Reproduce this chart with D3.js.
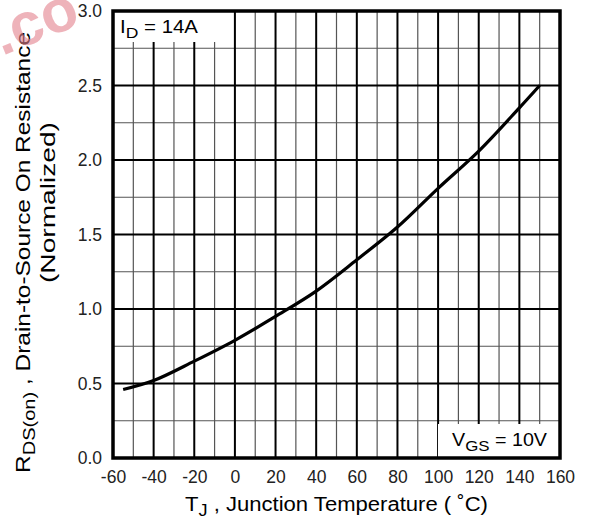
<!DOCTYPE html>
<html>
<head>
<meta charset="utf-8">
<script src="https://cdn.jsdelivr.net/npm/d3@7"></script>
<style>
  body { margin: 0; background: #fff; }
  text { font-family: "Liberation Sans", Arial, sans-serif; }
</style>
</head>
<body>
<svg id="chart" width="594" height="520"></svg>
<script>
// curve
const tempC = [-55, -40, -20, 0, 20, 40, 60, 80, 100, 120, 140, 150];
const rdsNorm = [0.46, 0.52, 0.65, 0.79, 0.95, 1.12, 1.33, 1.55, 1.81, 2.06, 2.35, 2.50];

const xTicks = [-60, -40, -20, 0, 20, 40, 60, 80, 100, 120, 140, 160];
const yTicks = [0, 0.5, 1.0, 1.5, 2.0, 2.5, 3.0];

// plot box
const margin = {top: 11, right: 34, bottom: 62, left: 113};
const width = 594 - margin.left - margin.right,
      height = 520 - margin.top - margin.bottom;

const svg = d3.select("#chart");
const g = svg.append("g")
  .attr("transform", `translate(${margin.left}, ${margin.top})`);

const x = d3.scaleLinear().domain([-60, 160]).range([0, width]);
const y = d3.scaleLinear().domain([0, 3]).range([height, 0]);

// grid - minor first, then major
const minorX = d3.range(-50, 160, 20);
const majorX = d3.range(-40, 160, 20);
const minorY = d3.range(0.25, 3, 0.5);
const majorY = d3.range(0.5, 3, 0.5);

g.selectAll(".vminor").data(minorX).enter().append("line")
  .attr("x1", d => x(d)).attr("x2", d => x(d))
  .attr("y1", 0).attr("y2", height)
  .attr("stroke", "#555").attr("stroke-width", 1.2);
g.selectAll(".hminor").data(minorY).enter().append("line")
  .attr("x1", 0).attr("x2", width)
  .attr("y1", d => y(d)).attr("y2", d => y(d))
  .attr("stroke", "#555").attr("stroke-width", 1.2);
g.selectAll(".vmajor").data(majorX).enter().append("line")
  .attr("x1", d => x(d)).attr("x2", d => x(d))
  .attr("y1", 0).attr("y2", height)
  .attr("stroke", "#000").attr("stroke-width", 2);
g.selectAll(".hmajor").data(majorY).enter().append("line")
  .attr("x1", 0).attr("x2", width)
  .attr("y1", d => y(d)).attr("y2", d => y(d))
  .attr("stroke", "#000").attr("stroke-width", 2);

// white label boxes over the grid
g.append("rect").attr("x", 0).attr("y", 0)
  .attr("width", 119).attr("height", 31).attr("fill", "#fff");
g.append("rect").attr("x", 325).attr("y", 413)
  .attr("width", width - 325).attr("height", height - 413).attr("fill", "#fff");

// curve
const line = d3.line()
  .x((d, i) => x(tempC[i]))
  .y(d => y(d))
  .curve(d3.curveCatmullRom);
g.append("path")
  .datum(rdsNorm)
  .attr("d", line)
  .attr("fill", "none")
  .attr("stroke", "#000")
  .attr("stroke-width", 3.2);

// frame
g.append("rect").attr("x", 0).attr("y", 0)
  .attr("width", width).attr("height", height)
  .attr("fill", "none").attr("stroke", "#000").attr("stroke-width", 3.5);

// axes
const xAxis = g.append("g")
  .attr("transform", `translate(0, ${height})`)
  .call(d3.axisBottom(x).tickValues(xTicks).tickFormat(d => String(d)).tickSize(0).tickPadding(13));
const yAxis = g.append("g")
  .call(d3.axisLeft(y).tickValues(yTicks).tickFormat(d3.format(".1f")).tickSize(0).tickPadding(11));
[xAxis, yAxis].forEach(a => {
  a.select(".domain").remove();
  a.selectAll("text")
    .style("font-family", "Liberation Sans, Arial, sans-serif")
    .style("font-size", "17.5px")
    .attr("fill", "#222");
});

// annotations
const idLabel = g.append("text").attr("x", 7).attr("y", 22)
  .attr("textLength", 78).attr("lengthAdjust", "spacingAndGlyphs")
  .style("font-size", "17.5px");
idLabel.append("tspan").text("I");
idLabel.append("tspan").attr("dy", 5).style("font-size", "15px").text("D");
idLabel.append("tspan").attr("dy", -5).text(" = 14A");

const vgsLabel = g.append("text").attr("x", 339).attr("y", 435)
  .attr("textLength", 95).attr("lengthAdjust", "spacingAndGlyphs")
  .style("font-size", "17.5px");
vgsLabel.append("tspan").text("V");
vgsLabel.append("tspan").attr("dy", 5).style("font-size", "15px").text("GS");
vgsLabel.append("tspan").attr("dy", -5).text(" = 10V");

// axis titles
const xt = svg.append("text")
  .attr("x", 185).attr("y", 511)
  .attr("textLength", 303).attr("lengthAdjust", "spacingAndGlyphs")
  .style("font-size", "19.5px");
xt.append("tspan").text("T");
xt.append("tspan").attr("dy", 5).style("font-size", "16px").text("J");
xt.append("tspan").attr("dy", -5).text(" , Junction Temperature ( ˚C)");

const yt = svg.append("text")
  .attr("transform", "translate(30, 473) rotate(-90)")
  .attr("textLength", 441).attr("lengthAdjust", "spacingAndGlyphs")
  .style("font-size", "19.5px");
yt.append("tspan").text("R");
yt.append("tspan").attr("dy", 5).style("font-size", "16px").text("DS(on)");
yt.append("tspan").attr("dy", -5).text(" , Drain-to-Source On Resistance");

svg.append("text")
  .attr("transform", "translate(55, 283) rotate(-90)")
  .attr("textLength", 161).attr("lengthAdjust", "spacingAndGlyphs")
  .style("font-size", "19.5px")
  .text("(Normalized)");

// faint watermark in the corner (only ".co" shows in the picture)
svg.append("text")
  .attr("transform", "translate(2, 56) rotate(-22)")
  .style("font-size", "60px").style("font-weight", "bold")
  .attr("fill", "#e3808c").attr("fill-opacity", 0.6)
  .text(".co");
</script>
</body>
</html>
